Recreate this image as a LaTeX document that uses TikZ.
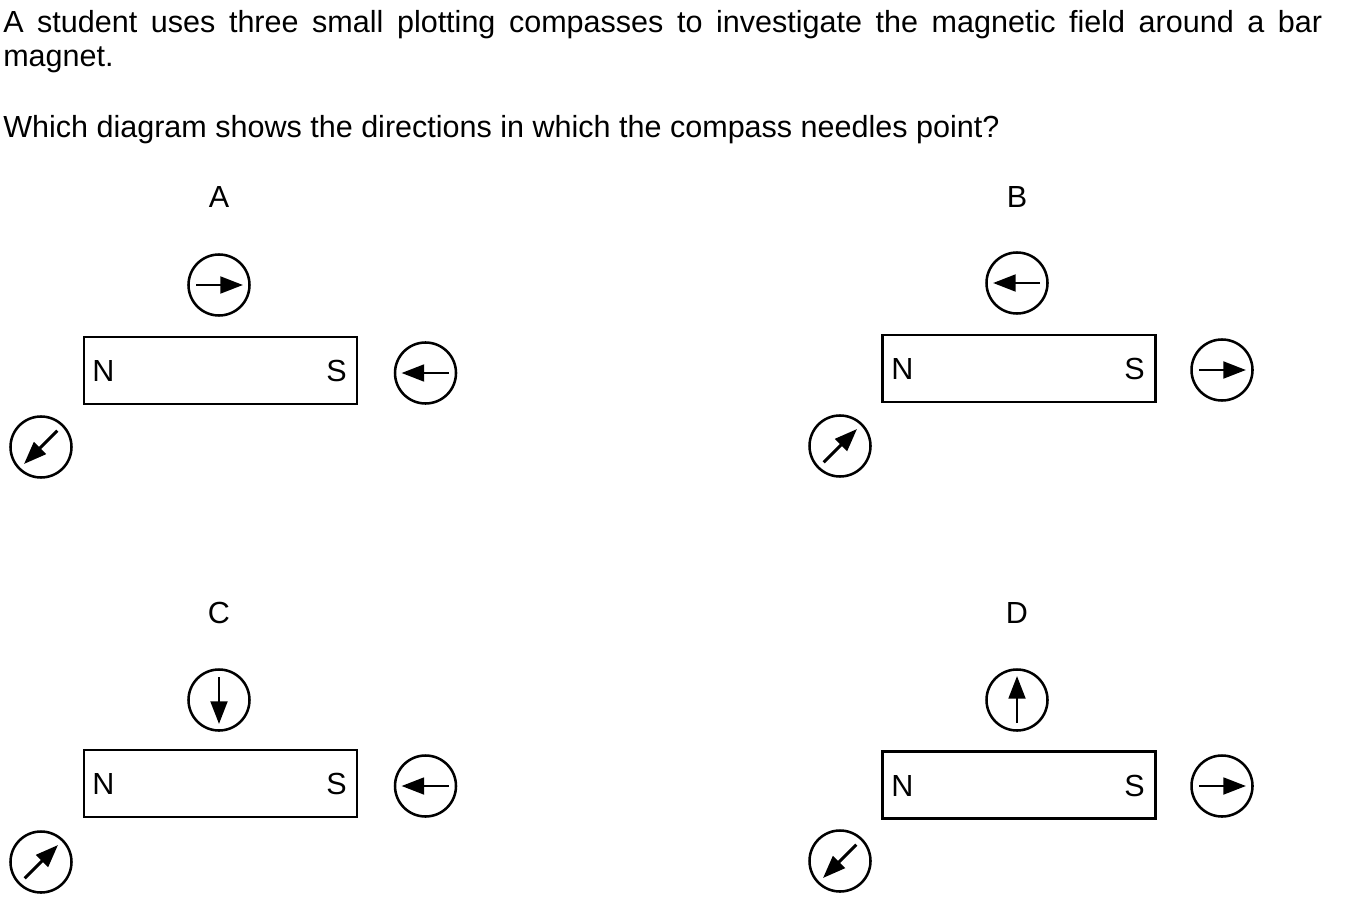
\documentclass[tikz,border=0pt]{standalone}
\usepackage{fontspec}
\setmainfont{Liberation Sans}
\usetikzlibrary{arrows.meta,calc}
\begin{document}
\begin{tikzpicture}[x=0.75pt,y=-0.75pt,
  txt/.style={inner sep=0pt,font=\fontsize{22.9pt}{27pt}\selectfont},
  magnet/.style={draw,line width=1.9pt,minimum width=204.75pt,minimum height=50.25pt,inner sep=0pt},
  compass/.style={draw,circle,line width=1.9pt,minimum size=45.75pt,inner sep=0pt},
  needle/.style={line width=2.2pt,-{Triangle[length=17pt,width=12.5pt]}}]
\useasboundingbox (0,0) rectangle (1355,902);
\newcommand\needleat[2]{\draw[needle] ($(#1.center)+(#2+180:23)$) -- ($(#1.center)+(#2:24)$);}
% question text
\node[txt,anchor=base west] (q1) at (3,33) {\makebox[989.25pt][s]{A student uses three small plotting compasses to investigate the magnetic field around a bar}};
\node[txt,anchor=base west] (q2) at (3,67) {magnet.};
\node[txt,anchor=base west] (q3) at (3,138) {Which diagram shows the directions in which the compass needles point?};
% labels
\node[txt,anchor=base] (lA) at (219,208) {A};
\node[txt,anchor=base] (lB) at (1017,208) {B};
\node[txt,anchor=base] (lC) at (219,623) {C};
\node[txt,anchor=base] (lD) at (1017,623) {D};
% magnets
\node[magnet] (mA) at (220.5,370.5) {};
\node[magnet] (mB) at (1019,368.5) {};
\node[magnet] (mC) at (220.5,783.5) {};
\node[magnet] (mD) at (1019,785) {};
\node[txt,anchor=base west] (nA) at (92,381) {N};
\node[txt,anchor=base east] (sA) at (347,381) {S};
\node[txt,anchor=base west] (nB) at (891,379) {N};
\node[txt,anchor=base east] (sB) at (1145,379) {S};
\node[txt,anchor=base west] (nC) at (92,794) {N};
\node[txt,anchor=base east] (sC) at (347,794) {S};
\node[txt,anchor=base west] (nD) at (891,796) {N};
\node[txt,anchor=base east] (sD) at (1145,796) {S};
% compasses A
\node[compass] (cAt) at (219,285) {};
\node[compass] (cAr) at (425.5,373) {};
\node[compass] (cAl) at (41,447) {};
\needleat{cAt}{0}
\needleat{cAr}{180}
\needleat{cAl}{135}
% compasses B
\node[compass] (cBt) at (1017,283) {};
\node[compass] (cBr) at (1222,370) {};
\node[compass] (cBl) at (840,446) {};
\needleat{cBt}{180}
\needleat{cBr}{0}
\needleat{cBl}{-45}
% compasses C
\node[compass] (cCt) at (219,700) {};
\node[compass] (cCr) at (425.5,786) {};
\node[compass] (cCl) at (41,862) {};
\needleat{cCt}{90}
\needleat{cCr}{180}
\needleat{cCl}{-45}
% compasses D
\node[compass] (cDt) at (1017,700) {};
\node[compass] (cDr) at (1222,786) {};
\node[compass] (cDl) at (840,861) {};
\needleat{cDt}{-90}
\needleat{cDr}{0}
\needleat{cDl}{135}
\end{tikzpicture}
\end{document}
